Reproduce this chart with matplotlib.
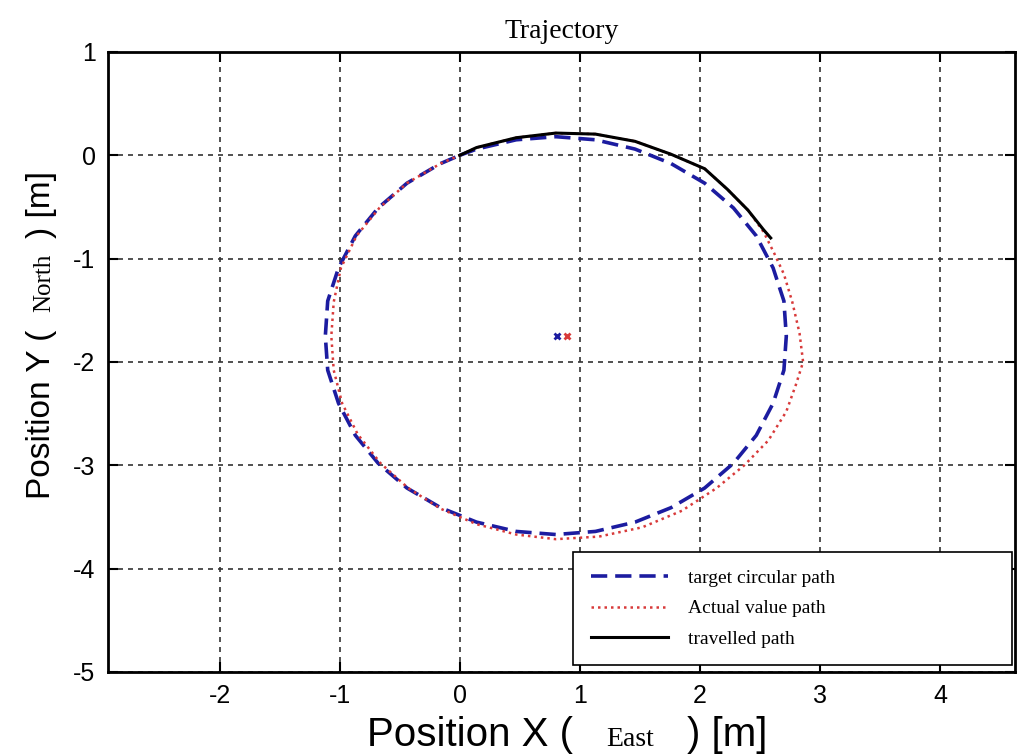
import matplotlib
matplotlib.use("Agg")
import matplotlib.pyplot as plt

plt.rcParams["axes.unicode_minus"] = False

# target circular path, clockwise from the origin
target_x = [0.00, 0.14, 0.47, 0.80, 1.13, 1.46, 1.76, 2.04, 2.28, 2.47, 2.61, 2.70,
            2.72, 2.70, 2.61, 2.47, 2.28, 2.04, 1.76, 1.46, 1.13, 0.80, 0.47, 0.14,
            -0.16, -0.44, -0.68, -0.87, -1.01, -1.10, -1.12, -1.10, -1.01, -0.87,
            -0.68, -0.44, -0.16, 0.00]
target_y = [0.00, 0.06, 0.15, 0.18, 0.15, 0.06, -0.08, -0.27, -0.51, -0.78, -1.09, -1.41,
            -1.75, -2.08, -2.40, -2.71, -2.98, -3.22, -3.41, -3.55, -3.64, -3.67, -3.64, -3.55,
            -3.41, -3.22, -2.98, -2.71, -2.40, -2.08, -1.75, -1.41, -1.09, -0.78,
            -0.51, -0.27, -0.08, 0.00]

# actual value path
actual_x = [0.00, 0.14, 0.47, 0.80, 1.13, 1.46, 1.76, 2.04, 2.23, 2.40, 2.53, 2.62,
            2.70, 2.77, 2.83, 2.86, 2.80, 2.72, 2.57, 2.37, 2.14, 1.85, 1.52, 1.16,
            0.80, 0.47, 0.14, -0.16, -0.43, -0.66, -0.85, -0.98, -1.05, -1.07,
            -1.05, -0.99, -0.86, -0.67, -0.44, -0.16, 0.00]
actual_y = [0.00, 0.075, 0.17, 0.215, 0.205, 0.135, 0.01, -0.13, -0.33, -0.53, -0.74, -0.95,
            -1.15, -1.42, -1.72, -2.00, -2.22, -2.48, -2.76, -3.00, -3.22, -3.44, -3.60, -3.69,
            -3.715, -3.67, -3.57, -3.42, -3.22, -2.98, -2.70, -2.40, -2.08, -1.75,
            -1.42, -1.09, -0.78, -0.51, -0.27, -0.08, 0.00]

# travelled path
travel_x = [0.00, 0.14, 0.47, 0.80, 1.13, 1.46, 1.76, 2.04, 2.23, 2.40, 2.53, 2.59]
travel_y = [0.00, 0.075, 0.17, 0.215, 0.205, 0.135, 0.01, -0.13, -0.33, -0.53, -0.72, -0.80]

# circle centres
centre_target = (0.81, -1.75)
centre_actual = (0.89, -1.75)

labels = ["target circular path", "Actual value path", "travelled path"]

fig = plt.figure(figsize=(10.24, 7.54), dpi=100)
ax = fig.add_axes([0.1055, 0.1088, 0.8857, 0.8223])

ax.plot(target_x, target_y, color="#1c1ca0", lw=2.6, linestyle=(0, (4.5, 2.2)), label=labels[0])
ax.plot(actual_x, actual_y, color="#d83a3a", lw=1.8, linestyle=(0, (1, 1.6)), label=labels[1])
ax.plot(travel_x, travel_y, color="black", lw=2.2, label=labels[2])
ax.plot(*centre_target, marker="x", color="#1c1ca0", ms=5, mew=2)
ax.plot(*centre_actual, marker="x", color="#d83a3a", ms=5, mew=2)

ax.set_xlim(-2.93, 4.625)
ax.set_ylim(-5, 1)
ax.set_xticks([-2, -1, 0, 1, 2, 3, 4])
ax.set_yticks([-5, -4, -3, -2, -1, 0, 1])
ax.grid(True, color="#333333", lw=1.2, linestyle=(0, (3, 3)))
ax.tick_params(direction="in", length=7, width=1.5, top=True, right=True,
               labelsize=18, pad=9)
for lab in ax.get_xticklabels() + ax.get_yticklabels():
    lab.set_fontfamily("Liberation Sans")
for sp in ax.spines.values():
    sp.set_linewidth(2)

ax.set_title("Trajectory", fontfamily="Liberation Serif", fontsize=20, pad=10)

leg = ax.legend(loc="lower left", bbox_to_anchor=(0.5127, 0.011, 0.484, 0.186),
                mode="expand", borderaxespad=0,
                prop={"family": "Liberation Serif", "size": 14},
                handlelength=4.0, handletextpad=1.0, labelspacing=0.65, borderpad=0.9,
                fancybox=False, framealpha=1, edgecolor="black")
leg.get_frame().set_linewidth(1.2)


def place_pieces(pieces, center, base, vertical=False):
    # lay out text pieces of mixed fonts end to end (pixel units)
    renderer = fig.canvas.get_renderer()
    W, H = fig.bbox.width, fig.bbox.height
    items = []
    for s, fam, size, gap in pieces:
        t = fig.text(0, 0, s, family=fam, fontsize=size, rotation=90 if vertical else 0,
                     rotation_mode="anchor", ha="left", va="baseline")
        bb = t.get_window_extent(renderer)
        items.append((t, bb.height if vertical else bb.width, gap))
    total = sum(w + g for _, w, g in items)
    pos = center - total / 2
    for t, w, g in items:
        if vertical:
            t.set_position((base / W, pos / H))
        else:
            t.set_position((pos / W, base / H))
        pos += w + g


fig.canvas.draw()
place_pieces([("Position X (", "Liberation Sans", 29, 33),
              ("East", "Liberation Serif", 20, 33),
              (") [m]", "Liberation Sans", 29, 0)], center=567, base=8)
place_pieces([("Position Y (", "Liberation Sans", 24, 18),
              ("North", "Liberation Serif", 18, 16),
              (") [m]", "Liberation Sans", 24, 0)], center=754 - 335, base=50, vertical=True)

fig.savefig("out.png", dpi=100)
